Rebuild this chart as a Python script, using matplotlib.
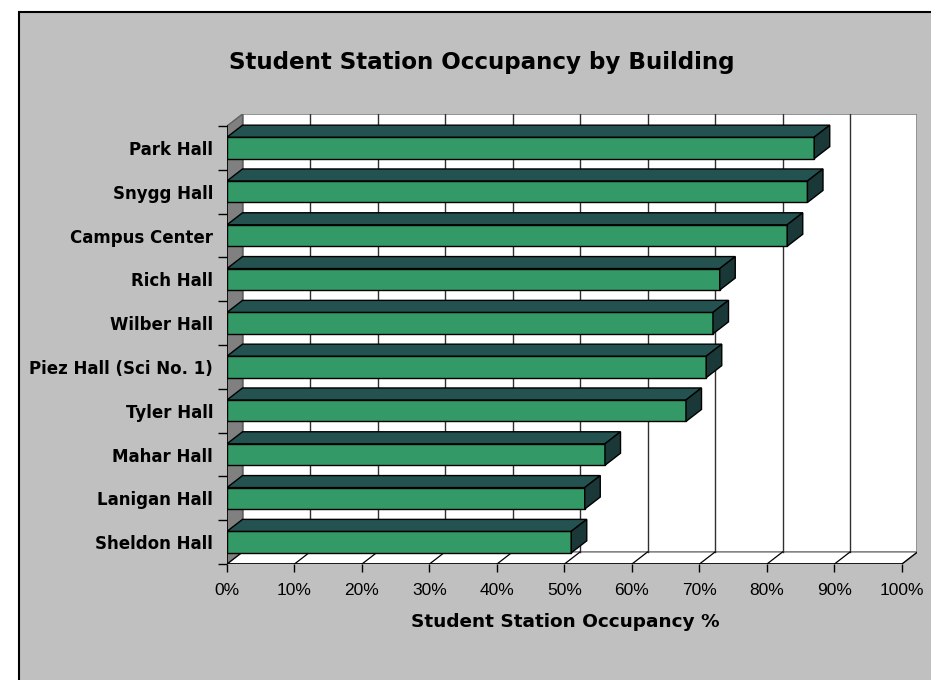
import matplotlib
matplotlib.use("Agg")
import matplotlib.pyplot as plt
from matplotlib.patches import Rectangle, Polygon
import numpy as np

# data, top to bottom as in the chart
buildings = ["Park Hall", "Snygg Hall", "Campus Center", "Rich Hall", "Wilber Hall",
             "Piez Hall (Sci No. 1)", "Tyler Hall", "Mahar Hall", "Lanigan Hall", "Sheldon Hall"]
occupancy = [87, 86, 83, 73, 72, 71, 68, 56, 53, 51]
xticks = [0, 10, 20, 30, 40, 50, 60, 70, 80, 90, 100]
xtick_labels = [f"{t}%" for t in xticks]

front = "#339966"
top = "#245250"
side = "#1b3838"
wall_gray = "#808080"

W, H = 931, 680
fig = plt.figure(figsize=(W / 100, H / 100), dpi=100, facecolor="white")

# gray chart area with black border (right/bottom cropped)
fig.patches.append(Rectangle((19 / W, -0.05), 1.1, 1 - 12 / H + 0.05, transform=fig.transFigure,
                             facecolor="#c0c0c0", edgecolor="black", lw=1.5, zorder=-5))

# 3d depth offset in data units
dx = 2.3
dy = 0.274
n = len(buildings)
ypos = np.arange(n)[::-1]  # Park Hall on top

ax = fig.add_axes([227 / W, (H - 564) / H, 690.5 / W, 450 / H])
ax.set_zorder(2)
ax.set_xlim(0, 100 + dx)
ax.set_ylim(-0.5, n - 0.5 + dy)
ax.patch.set_visible(False)
for s in ax.spines.values():
    s.set_visible(False)

# walls
ax.add_patch(Rectangle((dx, -0.5 + dy), 100, n, facecolor="white", edgecolor=wall_gray, lw=1.2, zorder=1))
ax.add_patch(Polygon([(0, -0.5), (dx, -0.5 + dy), (dx, n - 0.5 + dy), (0, n - 0.5)],
                     closed=True, facecolor=wall_gray, edgecolor="#606060", lw=1, zorder=1))
ax.add_patch(Polygon([(0, -0.5), (100, -0.5), (100 + dx, -0.5 + dy), (dx, -0.5 + dy)],
                     closed=True, facecolor="white", edgecolor=wall_gray, lw=1, zorder=1))
for t in xticks[1:-1]:
    ax.plot([t + dx, t + dx], [-0.5 + dy, n - 0.5 + dy], color="#303030", lw=1, zorder=1.5)
for t in xticks:
    ax.plot([t, t + dx], [-0.5, -0.5 + dy], color="black", lw=0.9, zorder=1.5)

# bars
h = 0.49
ax.barh(ypos, occupancy, height=h, color=front, edgecolor="black", lw=1, zorder=3)
for y, v in zip(ypos, occupancy):
    ax.add_patch(Polygon([(0, y + h / 2), (v, y + h / 2), (v + dx, y + h / 2 + dy), (dx, y + h / 2 + dy)],
                         closed=True, facecolor=top, edgecolor="black", lw=1, zorder=3))
    ax.add_patch(Polygon([(v, y - h / 2), (v, y + h / 2), (v + dx, y + h / 2 + dy), (v + dx, y - h / 2 + dy)],
                         closed=True, facecolor=side, edgecolor="black", lw=1, zorder=3))

# front axes lines
ax.plot([0, 0], [-0.5, n - 0.5], color="black", lw=1.2, zorder=4)
ax.plot([0, 100], [-0.5, -0.5], color="black", lw=1.2, zorder=4)

ax.set_xticks(xticks)
ax.set_xticklabels(xtick_labels, family="Liberation Sans", fontsize=12.5)
ax.tick_params(axis="x", direction="out", length=5.5, width=1, pad=8)
ax.set_yticks(ypos)
ax.set_yticklabels(buildings, family="DejaVu Sans", fontweight="bold", fontsize=12)
ax.tick_params(axis="y", length=0, pad=10)
ax.set_yticks(np.arange(n + 1) - 0.5, minor=True)
ax.tick_params(axis="y", which="minor", direction="out", length=6.75, width=1)

fig.text(482 / W, 1 - 63 / H, "Student Station Occupancy by Building", ha="center", va="center",
         fontsize=16.6, fontweight="bold", family="DejaVu Sans")
fig.text(565 / W, 1 - 622 / H, "Student Station Occupancy %", ha="center", va="center",
         fontsize=13.3, fontweight="bold", family="DejaVu Sans")

fig.savefig("out.png", dpi=100, facecolor="white")
